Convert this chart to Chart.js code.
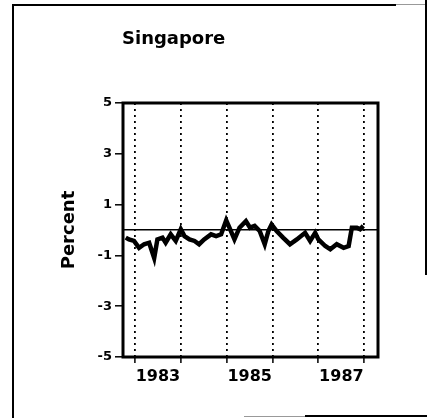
<!DOCTYPE html>
<html><head><meta charset="utf-8">
<script src="https://cdn.jsdelivr.net/npm/chart.js@4.4.0/dist/chart.umd.min.js"></script>
<style>
html,body{margin:0;padding:0;background:#fff;}
#wrap{position:relative;width:427px;height:418px;overflow:hidden;background:#fff;}
canvas{position:absolute;left:0;top:0;}
.fl{position:absolute;background:#000;}
</style></head><body>
<div id="wrap">
<canvas id="c" width="427" height="418"></canvas>
<div class="fl" style="left:12px;top:5px;width:2px;height:413px"></div>
<div class="fl" style="left:12px;top:4px;width:384px;height:2px"></div>
<div class="fl" style="left:396px;top:4px;width:31px;height:1px;background:#999"></div>
<div class="fl" style="left:425px;top:0px;width:1.5px;height:275px"></div>
<div class="fl" style="left:244px;top:416px;width:61px;height:1px;background:#999"></div>
<div class="fl" style="left:305px;top:415px;width:122px;height:2px"></div>
</div>
<script>
const chartTitle = 'Singapore';
const yAxisTitle = 'Percent';
const dates = [1982.80,1982.87,1982.98,1983.09,1983.20,1983.31,1983.42,1983.49,1983.60,1983.67,1983.78,1983.89,1984.00,1984.08,1984.19,1984.30,1984.40,1984.51,1984.66,1984.77,1984.88,1984.99,1985.06,1985.17,1985.28,1985.42,1985.51,1985.61,1985.72,1985.83,1985.91,1985.98,1986.09,1986.23,1986.38,1986.53,1986.71,1986.82,1986.93,1987.00,1987.15,1987.26,1987.40,1987.55,1987.66,1987.73,1987.84,1987.91,1987.98];
const values = [-0.30,-0.37,-0.43,-0.70,-0.56,-0.50,-1.10,-0.37,-0.30,-0.50,-0.17,-0.43,0.03,-0.24,-0.37,-0.43,-0.56,-0.37,-0.17,-0.24,-0.17,0.38,0.09,-0.37,0.09,0.35,0.09,0.16,-0.04,-0.56,-0.04,0.22,-0.04,-0.30,-0.56,-0.37,-0.11,-0.43,-0.11,-0.37,-0.63,-0.76,-0.56,-0.70,-0.63,0.09,0.09,0.03,0.16];
const xMin = 1982.74, xMax = 1988.3;
const xGridYears = [1983,1984,1985,1986,1987,1988];
const xLabelYears = [1983,1985,1987];
const yMin = -5, yMax = 5;
const yTicks = [-5,-4,-3,-2,-1,0,1,2,3,4,5];
const yLabelTicks = [5,3,1,-1,-3,-5];
const zeroLine = 0;

const framePlugin = {
  id: 'frame',
  afterDraw(chart) {
    const {ctx, chartArea: a} = chart;
    ctx.save();
    ctx.strokeStyle = '#000';
    ctx.lineWidth = 3;
    ctx.strokeRect(a.left, a.top, a.right - a.left, a.bottom - a.top);
    ctx.fillStyle = '#000';
    ctx.font = 'bold 18px "DejaVu Sans"';
    ctx.textAlign = 'left';
    ctx.textBaseline = 'alphabetic';
    ctx.fillText(chartTitle, a.left - 1, 44);
    ctx.restore();
  }
};

const black = '#000', clear = 'rgba(0,0,0,0)';
new Chart(document.getElementById('c'), {
  type: 'line',
  data: {
    datasets: [{
      data: dates.map((d, i) => ({x: d, y: values[i]})),
      borderColor: black,
      borderWidth: 4.5,
      pointRadius: 0,
      tension: 0,
      fill: false
    }]
  },
  options: {
    responsive: false,
    animation: false,
    layout: {padding: {left: 0, top: 103, right: 49, bottom: 31}},
    plugins: {legend: {display: false}, tooltip: {enabled: false}, title: {display: false}},
    scales: {
      x: {
        type: 'linear', min: xMin, max: xMax,
        afterBuildTicks: s => { s.ticks = xGridYears.map(v => ({value: v})); },
        afterFit: s => { s.height = 30; },
        grid: {color: black, lineWidth: 1.8, tickLength: 6, tickWidth: 1.5, tickColor: black, tickBorderDash: []},
        border: {display: false, dash: [2, 4]},
        ticks: {
          autoSkip: false, maxRotation: 0, minRotation: 0, padding: 4, labelOffset: 23, color: black,
          font: {family: 'DejaVu Sans', weight: 'bold', size: 16},
          callback: v => xLabelYears.includes(v) ? String(v) : ''
        }
      },
      y: {
        type: 'linear', min: yMin, max: yMax,
        afterBuildTicks: s => { s.ticks = yTicks.map(v => ({value: v})); },
        afterFit: s => { s.width = 123; },
        grid: {
          drawOnChartArea: true, lineWidth: 1.6, tickLength: 8, tickWidth: 1.5,
          color: c => (c.tick && c.tick.value === zeroLine) ? black : clear,
          tickColor: c => (c.tick && yLabelTicks.includes(c.tick.value)) ? black : clear
        },
        border: {display: false},
        title: {display: true, text: yAxisTitle, color: black, font: {family: 'DejaVu Sans', weight: 'bold', size: 18}, padding: {top: 59, bottom: 0}},
        ticks: {
          autoSkip: false, padding: 3, color: black,
          font: {family: 'DejaVu Sans', weight: 'bold', size: 13},
          callback: v => yLabelTicks.includes(v) ? String(v) : ''
        }
      }
    }
  },
  plugins: [framePlugin]
});
</script>
</body></html>
